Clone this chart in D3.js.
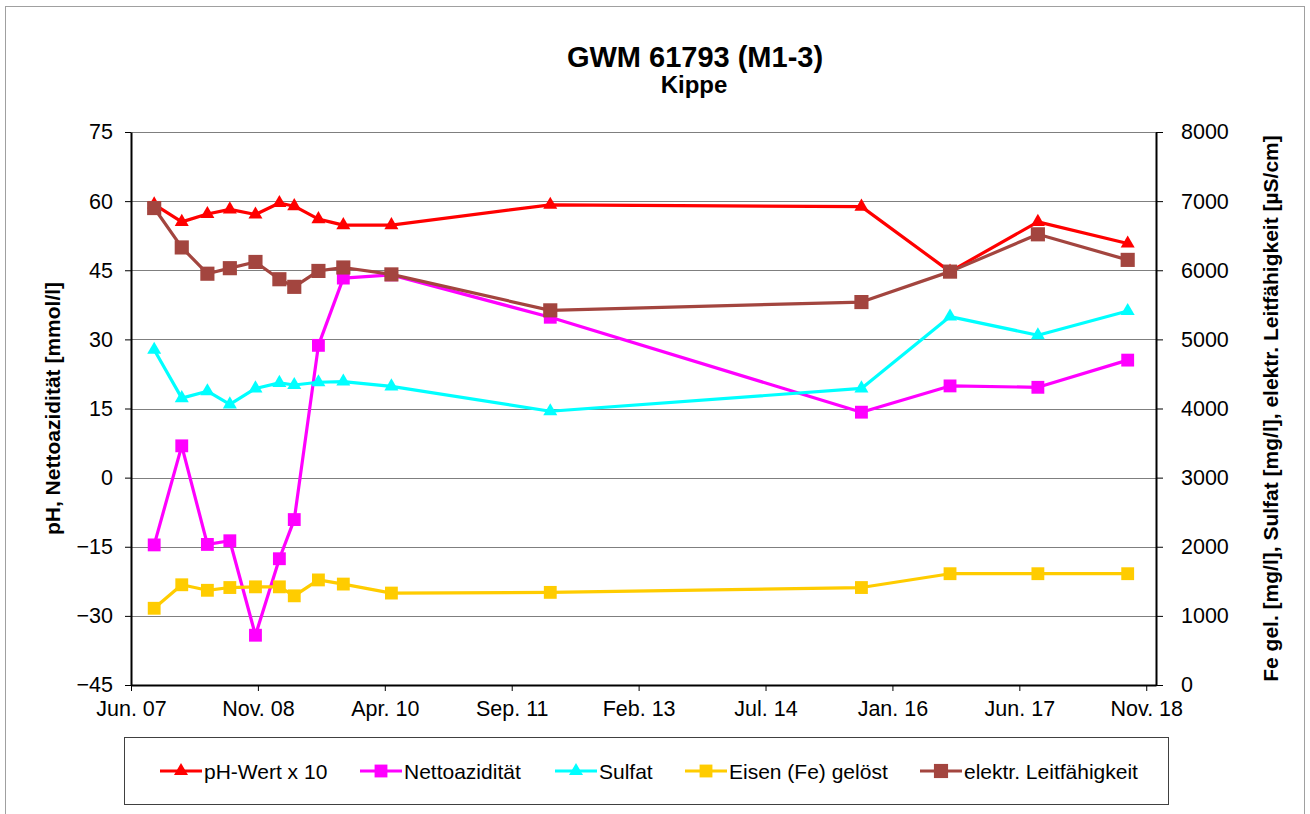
<!DOCTYPE html>
<html><head><meta charset="utf-8">
<script src="https://cdn.jsdelivr.net/npm/d3@7"></script>
<style>
html,body{margin:0;padding:0;background:#fff;}
svg{display:block;font-family:"Liberation Sans",Arial,sans-serif;}
</style></head>
<body><svg id="c" width="1310" height="814"></svg>
<script>
// ---- data ----
const dates = ["2007-09-20","2008-01-11","2008-04-25","2008-07-26","2008-11-08","2009-02-14","2009-04-16","2009-07-24","2009-11-03","2010-05-19","2012-02-29","2015-08-27","2016-08-24","2017-08-19","2018-08-22"];
const phX10 = [59.3,55.5,57.2,58.2,57.1,59.6,58.9,56.1,54.8,54.8,59.2,58.8,44.7,55.5,50.8];
const nettoaziditaet = [-14.6,6.9,-14.5,-13.7,-34.2,-17.6,-9.1,28.7,43.3,44.0,34.8,14.2,19.9,19.6,25.5];
const sulfat = [4850,4150,4250,4060,4290,4370,4340,4380,4390,4320,3960,4290,5330,5060,5410];
const eisen = [1110,1450,1370,1410,1420,1420,1290,1520,1460,1330,1340,1410,1610,1610,1610];
const leitfaehigkeit = [6900,6330,5950,6030,6120,5870,5760,5990,6040,5940,5420,5540,5980,6520,6150];
const seriesNames = ["pH-Wert x 10","Nettoazidität","Sulfat","Eisen (Fe) gelöst","elektr. Leitfähigkeit"];
const xTickLabels = ["Jun. 07","Nov. 08","Apr. 10","Sep. 11","Feb. 13","Jul. 14","Jan. 16","Jun. 17","Nov. 18"];
const xDomain = ["2007-06-17","2018-12-16"];
const xTickStepDays = 520;
const leftTicks = [-45,-30,-15,0,15,30,45,60,75];
const rightTicks = [0,1000,2000,3000,4000,5000,6000,7000,8000];
const title = "GWM 61793 (M1-3)";
const subtitle = "Kippe";
const leftTitle = "pH, Nettoazidität [mmol/l]";
const rightTitle = "Fe gel. [mg/l], Sulfat [mg/l], elektr. Leitfähigkeit [µS/cm]";

// ---- layout ----
const parse = d3.utcParse("%Y-%m-%d");
const L = 131, R = 1156, T = 132, B = 685;
const svg = d3.select("#c");

svg.append("rect").attr("x",5.5).attr("y",6.5).attr("width",1299).attr("height",830)
  .attr("fill","none").attr("stroke","#a0a0a0").attr("stroke-width",1);

const x = d3.scaleUtc().domain(xDomain.map(parse)).range([L,R]);
const yL = d3.scaleLinear().domain([-45,75]).range([B,T]);
const yR = d3.scaleLinear().domain([0,8000]).range([B,T]);

// gridlines
svg.append("g").selectAll("line").data(leftTicks).join("line")
  .attr("x1",L).attr("x2",R).attr("y1",d=>Math.round(yL(d))+0.5).attr("y2",d=>Math.round(yL(d))+0.5)
  .attr("stroke","#7f7f7f").attr("stroke-width",1);

// axes
const xTickDates = xTickLabels.map((_,i)=>d3.utcDay.offset(parse(xDomain[0]), i*xTickStepDays));
const gx = svg.append("g").attr("transform",`translate(0,${B})`)
  .call(d3.axisBottom(x).tickValues(xTickDates).tickFormat((d,i)=>xTickLabels[i]).tickSize(6).tickPadding(7).tickSizeOuter(0));
const gl = svg.append("g").attr("transform",`translate(${L},0)`)
  .call(d3.axisLeft(yL).tickValues(leftTicks).tickFormat(d3.format("d")).tickSize(6).tickPadding(12).tickSizeOuter(0));
const gr = svg.append("g").attr("transform",`translate(${R},0)`)
  .call(d3.axisRight(yR).tickValues(rightTicks).tickFormat(d3.format("d")).tickSize(7).tickPadding(18).tickSizeOuter(0));
[gx,gl,gr].forEach(g=>{
  g.selectAll(".domain").attr("stroke","#000").attr("stroke-width",2);
  g.selectAll(".tick line").attr("stroke","#000").attr("stroke-width",1);
  g.selectAll("text").attr("fill","#000").style("font-size","21.5px").style("font-family","'Liberation Sans',Arial,sans-serif");
});
gx.selectAll("text").attr("dy","0.85em");

// titles
svg.append("text").attr("x",695).attr("y",67).attr("text-anchor","middle")
  .style("font-size","29px").style("font-weight","bold").text(title);
svg.append("text").attr("x",694).attr("y",93).attr("text-anchor","middle")
  .style("font-size","24px").style("font-weight","bold").text(subtitle);
svg.append("text").attr("transform",`translate(60,${(T+B)/2}) rotate(-90)`).attr("text-anchor","middle")
  .style("font-size","21px").style("font-weight","bold").text(leftTitle);
svg.append("text").attr("transform",`translate(1278,${(T+B)/2}) rotate(-90)`).attr("text-anchor","middle")
  .style("font-size","21px").style("font-weight","bold").text(rightTitle);

// series
const xs = dates.map(parse);
const series = [
  {name:seriesNames[0], vals:phX10, y:yL, color:"#ff0000", sym:d3.symbolTriangle, size:85},
  {name:seriesNames[1], vals:nettoaziditaet, y:yL, color:"#ff00ff", sym:d3.symbolSquare, size:165},
  {name:seriesNames[2], vals:sulfat, y:yR, color:"#00ffff", sym:d3.symbolTriangle, size:85},
  {name:seriesNames[3], vals:eisen, y:yR, color:"#ffcc00", sym:d3.symbolSquare, size:165},
  {name:seriesNames[4], vals:leitfaehigkeit, y:yR, color:"#a3453f", sym:d3.symbolSquare, size:200}
];
const line = d3.line();
series.forEach(s=>{
  const pts = s.vals.map((v,i)=>[x(xs[i]), s.y(v)]);
  const g = svg.append("g");
  g.append("path").attr("d",line(pts)).attr("fill","none").attr("stroke",s.color)
    .attr("stroke-width",3.2).attr("stroke-linejoin","round");
  g.selectAll("path.m").data(pts).join("path").attr("class","m")
    .attr("transform",d=>`translate(${d[0]},${d[1]})`)
    .attr("d",d3.symbol().type(s.sym).size(s.size)).attr("fill",s.color);
});

// legend
const lg = svg.append("g");
lg.append("rect").attr("x",124.5).attr("y",737.5).attr("width",1044).attr("height",67)
  .attr("fill","#fff").attr("stroke","#404040").attr("stroke-width",1);
const legX = [160,360,555,685,920];
series.forEach((s,i)=>{
  const g = lg.append("g").attr("transform",`translate(${legX[i]},771)`);
  g.append("line").attr("x1",0).attr("x2",42).attr("stroke",s.color).attr("stroke-width",3.2);
  g.append("path").attr("transform","translate(21,0)").attr("d",d3.symbol().type(s.sym).size(s.size)).attr("fill",s.color);
  g.append("text").attr("x",44).attr("y",7.5).style("font-size","21px").text(s.name);
});
</script>
</body></html>
